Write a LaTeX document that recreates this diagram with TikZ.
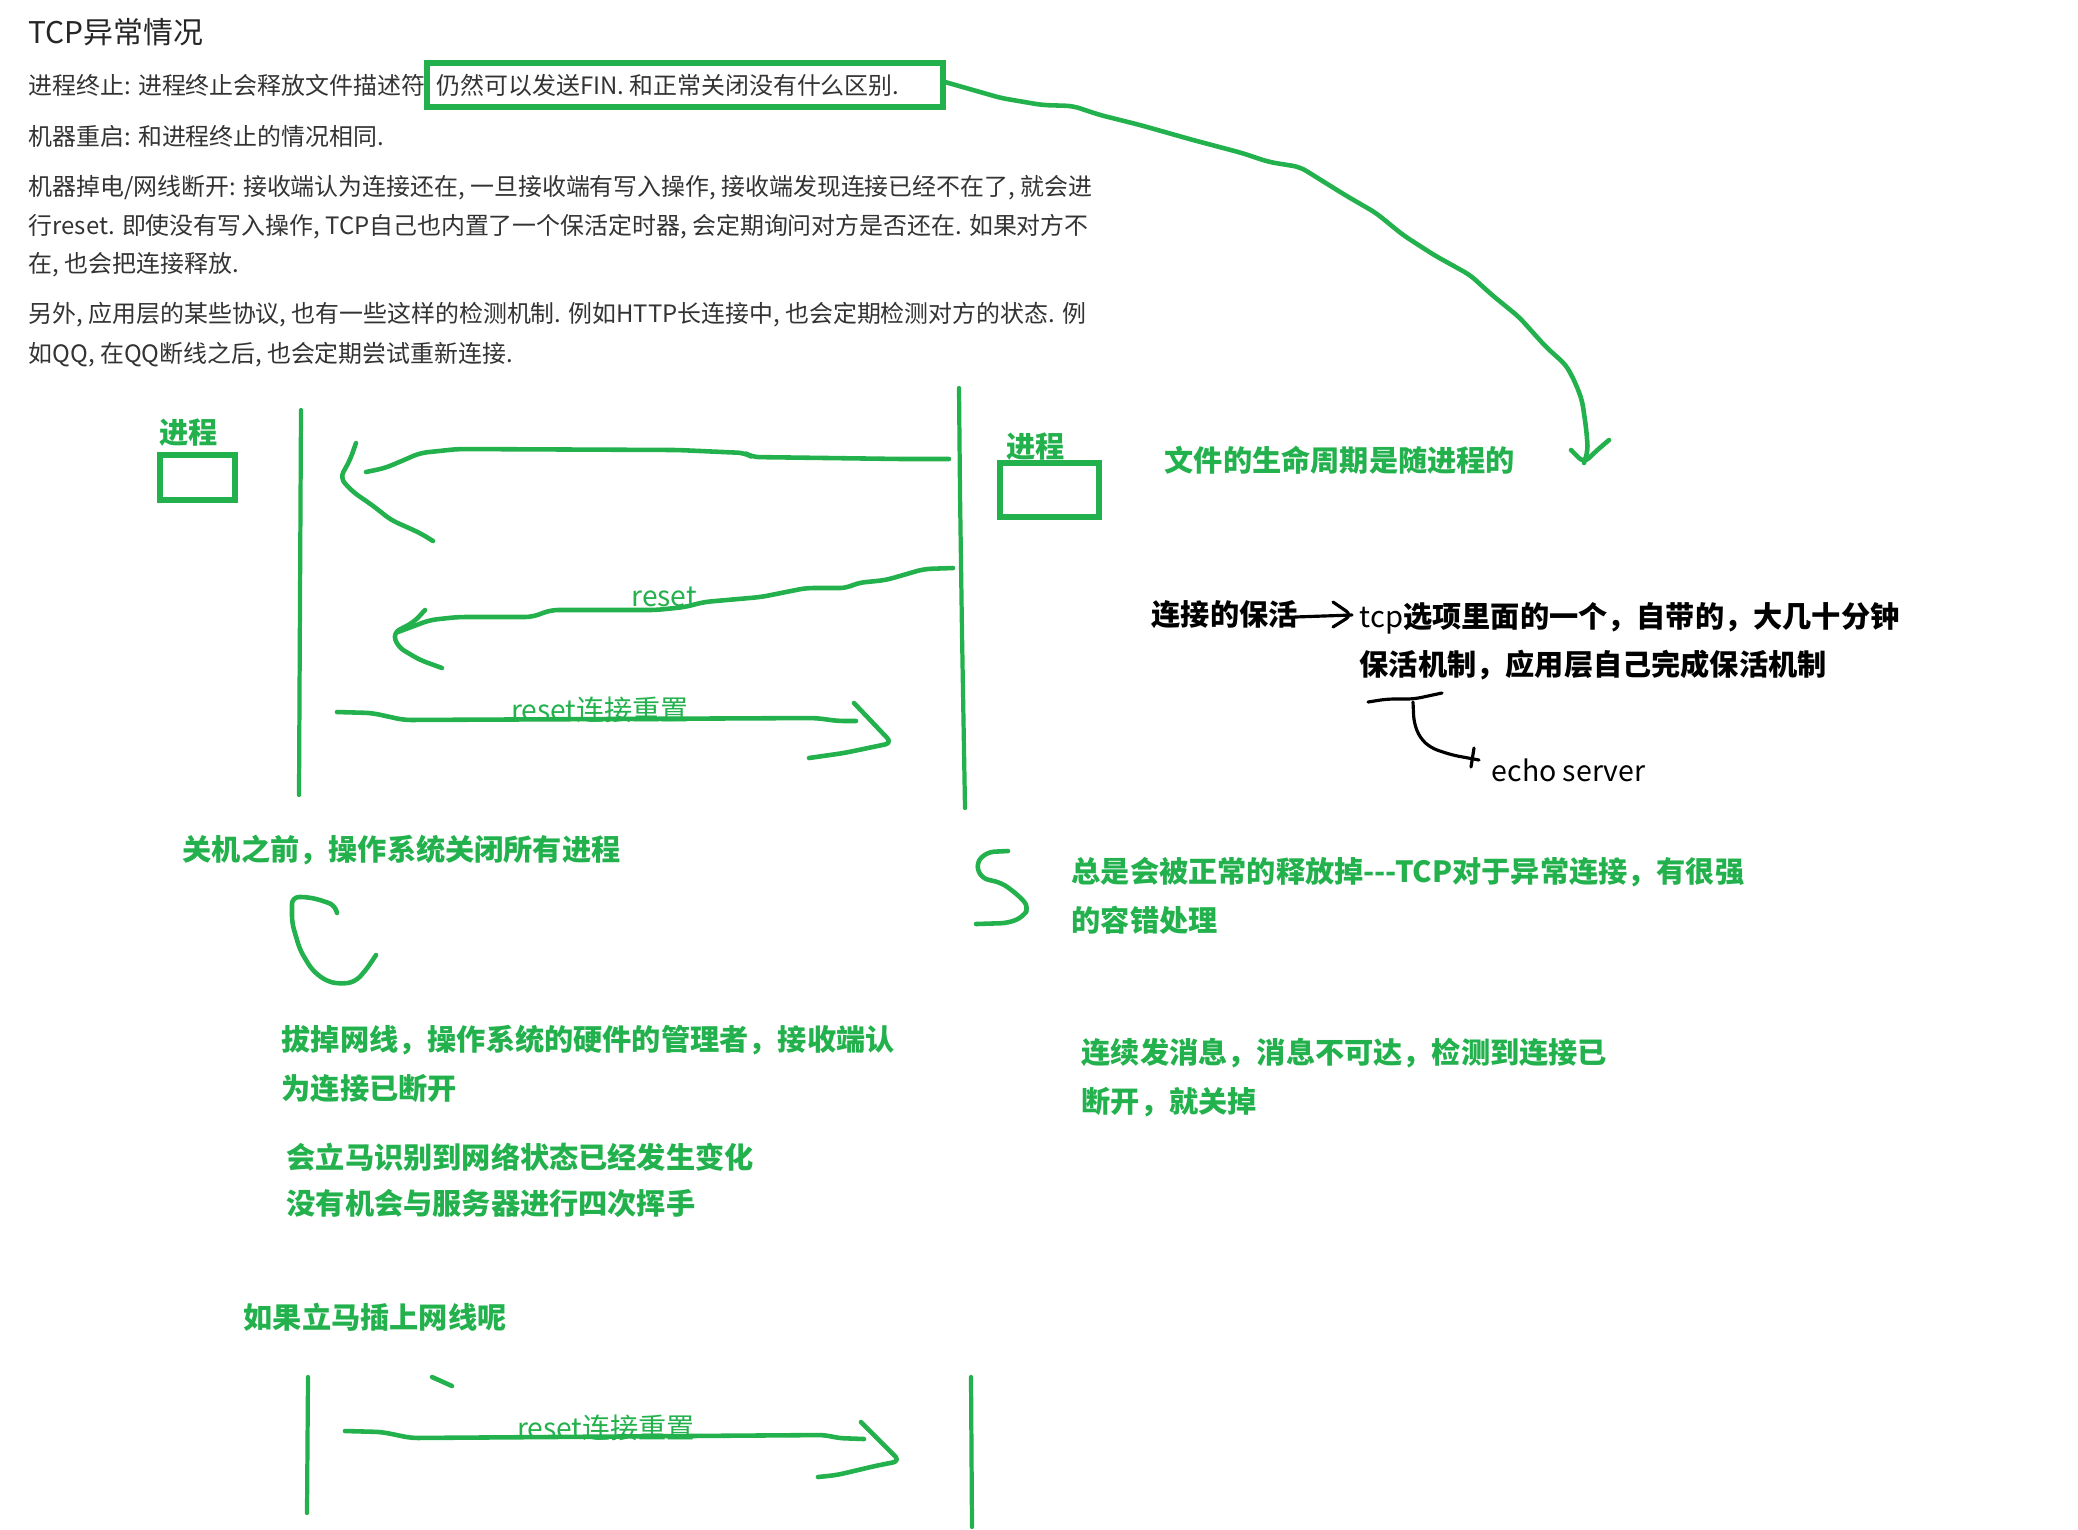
\documentclass[tikz,border=0pt]{standalone}
\usepackage{fontspec}
\setmainfont{Noto Sans CJK SC}
\definecolor{pgreen}{RGB}{34,177,76}
\definecolor{bodygray}{RGB}{51,51,51}
\begin{document}
\begin{tikzpicture}[x=0.01cm,y=-0.01cm,
  body/.style={anchor=west, inner sep=0pt, text=bodygray, font=\fontsize{6.8}{8}\selectfont},
  titletext/.style={anchor=west, inner sep=0pt, text=black!85, font=\fontsize{8.5}{10}\selectfont},
  gtext/.style={anchor=west, inner sep=0pt, text=pgreen, font=\fontsize{8.3}{10}\selectfont\bfseries},
  btext/.style={anchor=west, inner sep=0pt, text=black, font=\fontsize{8.3}{10}\selectfont\bfseries},
  glabel/.style={inner sep=0pt, text=pgreen, font=\fontsize{8}{10}\selectfont},
  gstroke/.style={draw=pgreen, line width=1.3pt, line cap=round, line join=round, rounded corners=2pt},
  bstroke/.style={draw=black, line width=0.9pt, line cap=round, line join=round, rounded corners=2pt},
  gframe/.style={draw=pgreen, line width=1.6pt},
  lifeline/.style={draw=pgreen, line width=1.2pt, line cap=round}]
\useasboundingbox (0,0) rectangle (2078,1529);
\fill[white] (0,0) rectangle (2078,1529);

% ---------- text block ----------
\node[titletext] (title) at (28,32) {TCP异常情况};
\node[body] (l1) at (28,85) {进程终止: 进程终止会释放文件描述符};
\node[body] (l1b) at (436,85) {仍然可以发送FIN. 和正常关闭没有什么区别.};
\node[body] (l2) at (28,136) {机器重启: 和进程终止的情况相同.};
\node[body] (l3) at (28,188) {机器掉电/网线断开: 接收端认为连接还在, 一旦接收端有写入操作, 接收端发现连接已经不在了, 就会进};
\node[body] (l4) at (28,227) {行reset. 即使没有写入操作, TCP自己也内置了一个保活定时器, 会定期询问对方是否还在. 如果对方不};
\node[body] (l5) at (28,265) {在, 也会把连接释放.};
\node[body] (l6) at (28,315) {另外, 应用层的某些协议, 也有一些这样的检测机制. 例如HTTP长连接中, 也会定期检测对方的状态. 例};
\node[body] (l7) at (28,355) {如QQ, 在QQ断线之后, 也会定期尝试重新连接.};

% box around the highlighted sentence
\draw[gframe] (427,63) rectangle (943,107);
\coordinate (boxE) at (945,82);
\coordinate (lifeHead) at (1584,463);
\draw[gstroke] (boxE) -- (1001,98) -- (1042,105) -- (1073,106) -- (1100,115) -- (1140,125) -- (1193,140) -- (1242,153) -- (1269,162) -- (1300,167) -- (1345,195) -- (1376,213) -- (1403,235) -- (1434,255) -- (1470,275) -- (1492,295) -- (1519,317) -- (1546,347) -- (1566,365) -- (1575,382) -- (1582,400) -- (1586,427) -- (1588,450) -- (lifeHead);
\draw[gstroke] (1571,450) -- (lifeHead) -- (1595,452) -- (1609,440);

% ---------- first sequence diagram ----------
\node[gtext] (pL) at (159,433) {进程};
\draw[gframe] (160,455) rectangle (235,500);
\node[gtext] (pR) at (1006,447) {进程};
\draw[gframe] (1000,463) rectangle (1099,517);

\coordinate (lt) at (301,410);
\coordinate (lb) at (299,795);
\draw[lifeline] (lt) -- (300,600) -- (lb);
\coordinate (rt) at (959,388);
\coordinate (rb) at (965,808);
\draw[lifeline] (rt) -- (960,493) -- (962,633) -- (rb);

\node[gtext] (life) at (1164,460) {文件的生命周期是随进程的};

% arrow 1
\coordinate (a1s) at (949,459);
\coordinate (a1e) at (366,472);
\draw[gstroke] (a1s) -- (902,459) -- (752,457) -- (745,453) -- (678,450) -- (458,449) -- (420,453) -- (404,460) -- (385,468) -- (a1e);
\draw[gstroke] (356,443) -- (350,460) -- (340,478) -- (353,492) -- (372,505) -- (391,520) -- (420,533) -- (433,541);

% arrow 2 (reset)
\coordinate (a2s) at (953,568);
\coordinate (a2e) at (398,632);
\draw[gstroke] (a2s) -- (924,569) -- (886,580) -- (857,583) -- (847,588) -- (806,588) -- (761,597) -- (704,602) -- (685,607) -- (656,610) -- (551,610) -- (532,617) -- (458,617) -- (430,620) -- (a2e);
\draw[gstroke] (425,610) -- (414,622) -- (393,633) -- (398,647) -- (420,660) -- (442,668);
\node[glabel] (rst) at (664,597) {reset};

% arrow 3 (reset 连接重置)
\coordinate (a3s) at (337,712);
\coordinate (a3e) at (856,721);
\draw[gstroke] (a3s) -- (372,713) -- (404,720) -- (816,718) -- (838,721) -- (a3e);
\draw[gstroke] (854,703) -- (892,743) -- (844,753) -- (809,758);
\node[glabel] (rst2) at (600,710) {reset连接重置};

% ---------- notes ----------
\node[gtext] (shut) at (182,850) {关机之前，操作系统关闭所有进程};
\coordinate (c1) at (337,913);
\coordinate (c2) at (376,955);
\draw[gstroke] (c1) -- (336,906) -- (324,901) -- (308,897) -- (292,897) -- (292,923) -- (300,950) -- (312,970) -- (326,981) -- (340,984) -- (355,982) -- (366,970) -- (c2);

\coordinate (s1) at (1008,851);
\coordinate (s2) at (976,924);
\draw[gstroke] (s1) -- (987,852) -- (976,863) -- (981,878) -- (1002,883) -- (1018,895) -- (1029,907) -- (1023,917) -- (1008,923) -- (s2);
\node[gtext] (tol1) at (1071,872) {总是会被正常的释放掉-{}-{}-TCP对于异常连接，有很强};
\node[gtext] (tol2) at (1071,920) {的容错处理};

\node[gtext] (unp1) at (281,1040) {拔掉网线，操作系统的硬件的管理者，接收端认};
\node[gtext] (unp2) at (281,1088) {为连接已断开};
\node[gtext] (imm1) at (286,1157) {会立马识别到网络状态已经发生变化};
\node[gtext] (imm2) at (286,1203) {没有机会与服务器进行四次挥手};

\node[gtext] (cont1) at (1081,1053) {连续发消息，消息不可达，检测到连接已};
\node[gtext] (cont2) at (1081,1102) {断开，就关掉};

\node[gtext] (replug) at (243,1317) {如果立马插上网线呢};

% ---------- keepalive notes (black) ----------
\node[btext] (ka) at (1151,615) {连接的保活};
\coordinate (kaS) at (1295,617);
\coordinate (kaE) at (1352,615);
\draw[bstroke] (kaS) -- (kaE);
\draw[bstroke] (1333,602) -- (kaE) -- (1333,627);
\node[btext] (ka1) at (1359,618) {{\mdseries tcp}选项里面的一个，自带的，大几十分钟};
\node[btext] (ka2) at (1359,665) {保活机制，应用层自己完成保活机制};
\draw[bstroke] (1368,702) -- (1387,699) -- (1414,699) -- (1442,693);
\coordinate (brS) at (1413,702);
\coordinate (brE) at (1479,760);
\draw[bstroke] (brS) -- (1414,723) -- (1420,738) -- (1431,748) -- (1452,755) -- (brE);
\draw[bstroke] (1474,748) -- (1471,767);
\node[inner sep=0pt, anchor=west, font=\fontsize{8.1}{10}\selectfont] (echo) at (1491,770) {echo server};

% ---------- second sequence diagram ----------
\coordinate (lt2) at (308,1377);
\coordinate (lb2) at (307,1513);
\draw[lifeline] (lt2) -- (lb2);
\coordinate (rt2) at (971,1377);
\coordinate (rb2) at (972,1527);
\draw[lifeline] (rt2) -- (rb2);
\draw[gstroke] (432,1377) -- (452,1386);
\coordinate (a4s) at (345,1431);
\coordinate (a4e) at (864,1439);
\draw[gstroke] (a4s) -- (382,1432) -- (411,1438) -- (826,1435) -- (837,1438) -- (a4e);
\draw[gstroke] (861,1422) -- (900,1461) -- (875,1466) -- (837,1475) -- (818,1477);
\node[glabel] (rst3) at (606,1428) {reset连接重置};
\end{tikzpicture}
\end{document}
